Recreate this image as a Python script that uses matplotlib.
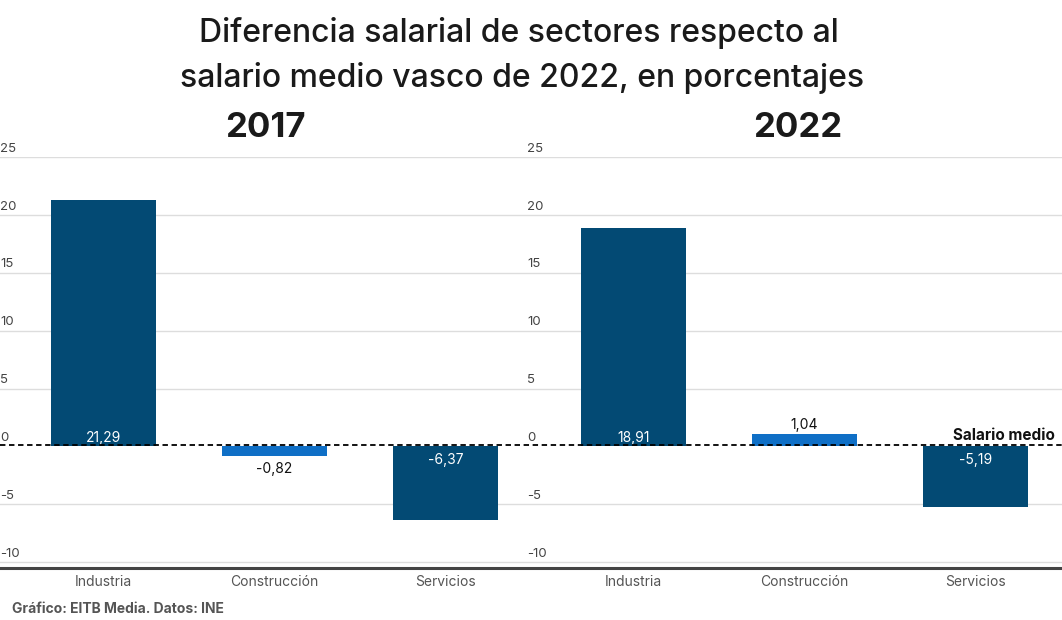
import matplotlib.pyplot as plt
from matplotlib.transforms import blended_transform_factory

plt.rcParams['font.family'] = ['Inter', 'DejaVu Sans']

SECTORES = ["Industria", "Construcción", "Servicios"]
VALORES_2017 = [21.29, -0.82, -6.37]
VALORES_2022 = [18.91, 1.04, -5.19]
ETIQUETAS_2017 = ["21,29", "-0,82", "-6,37"]
ETIQUETAS_2022 = ["18,91", "1,04", "-5,19"]
YTICKS = [-10, -5, 0, 5, 10, 15, 20, 25]

AZUL_OSCURO = "#034a74"
AZUL_CLARO = "#0f6fc6"
W, H = 1062, 620

fig = plt.figure(figsize=(W / 100, H / 100), dpi=100)


def px_axes(x0, x1, y0, y1):
    # posición en píxeles (y desde arriba)
    return fig.add_axes([x0 / W, 1 - y1 / H, (x1 - x0) / W, (y1 - y0) / H])


def dibujar(ax, valores, etiquetas, xlim):
    colores = [AZUL_OSCURO, AZUL_CLARO, AZUL_OSCURO]
    x = range(len(valores))
    ax.bar(x, valores, width=0.614, color=colores, zorder=3)
    ax.set_xlim(*xlim)
    ax.set_ylim(-10.5, 25)
    for s in ax.spines.values():
        s.set_visible(False)
    ax.set_xticks([])
    ax.set_yticks([])
    for t in YTICKS:
        if t != 0:
            ax.axhline(t, color="#dddddd", lw=1, zorder=1)
    tr = blended_transform_factory(ax.transAxes, ax.transData)
    for t in YTICKS:
        ax.text(0.0, t + 0.2, str(t), transform=tr, ha="left", va="bottom",
                fontsize=9.5, color="#444444")
    for i, (v, lab) in enumerate(zip(valores, etiquetas)):
        if abs(v) > 3:
            ax.text(i, 0.15 if v > 0 else -0.6, lab, ha="center",
                    va="bottom" if v > 0 else "top", color="white",
                    fontsize=10, zorder=4)
        else:
            ax.text(i, v + 0.25 if v > 0 else v - 0.5, lab, ha="center",
                    va="bottom" if v > 0 else "top", color="#111111",
                    fontsize=10, zorder=4)
    for i, s in enumerate(SECTORES):
        ax.text(i, -11.1, s, ha="center", va="top", fontsize=10,
                color="#555555", clip_on=False)


ax1 = px_axes(0, 531, 157, 568)
dibujar(ax1, VALORES_2017, ETIQUETAS_2017, (-103.5 / 171, (531 - 103.5) / 171))
ax2 = px_axes(527, 1062, 157, 568)
dibujar(ax2, VALORES_2022, ETIQUETAS_2022, ((527 - 633.5) / 171, (1062 - 633.5) / 171))

# línea de salario medio y eje inferior
y0 = 1 - 445 / H
fig.add_artist(plt.Line2D([0, 1], [y0, y0], color="black", lw=1.3,
                          ls=(0, (3, 2)), zorder=5))
yb = 1 - 568 / H
fig.add_artist(plt.Line2D([0, 1], [yb, yb], color="#444444", lw=2.2))
fig.text(1055 / W, 1 - 435 / H, "Salario medio", ha="right", va="center",
         fontsize=11, fontweight="bold", color="#111111")

fig.text(519 / W, 1 - 33 / H, "Diferencia salarial de sectores respecto al",
         ha="center", va="center", fontsize=23, fontweight="medium", color="#1a1a1a")
fig.text(522 / W, 1 - 78 / H, "salario medio vasco de 2022, en porcentajes",
         ha="center", va="center", fontsize=23, fontweight="medium", color="#1a1a1a")
fig.text(265 / W, 1 - 128 / H, "2017", ha="center", va="center",
         fontsize=25, fontweight="bold", color="#1a1a1a")
fig.text(798 / W, 1 - 128 / H, "2022", ha="center", va="center",
         fontsize=25, fontweight="bold", color="#1a1a1a")
fig.text(12 / W, 1 - 609 / H, "Gráfico: EITB Media. Datos: INE", ha="left",
         va="center", fontsize=10, fontweight="bold", color="#555555")

fig.savefig("out.png", dpi=100)
